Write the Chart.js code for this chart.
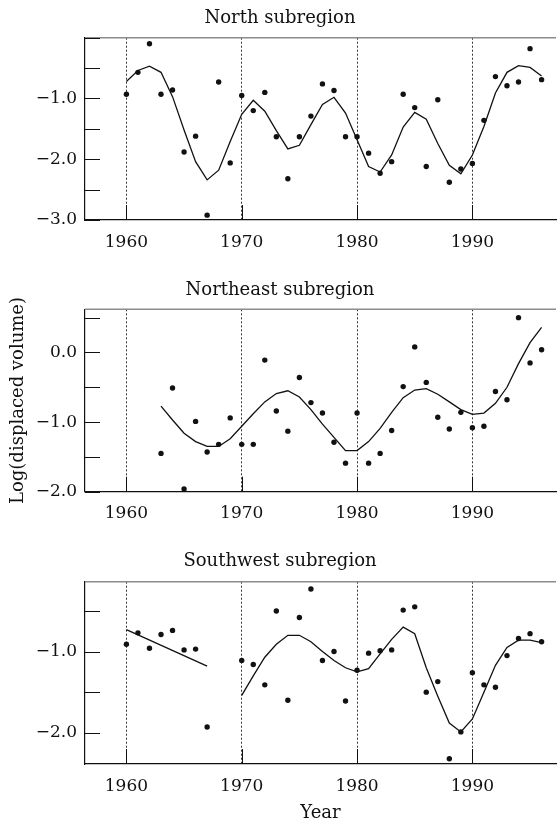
<!DOCTYPE html>
<html>
<head>
<meta charset="utf-8">
<script src="https://cdn.jsdelivr.net/npm/chart.js@4.4.1/dist/chart.umd.min.js"></script>
<style>
  body { margin: 0; background: #fff; }
  canvas { position: absolute; left: 0; }
</style>
</head>
<body>
<canvas id="north" width="560" height="270" style="top:0"></canvas>
<canvas id="northeast" width="560" height="275" style="top:270px"></canvas>
<canvas id="southwest" width="560" height="279" style="top:545px"></canvas>
<script>
const years = [1960, 1961, 1962, 1963, 1964, 1965, 1966, 1967, 1968, 1969,
  1970, 1971, 1972, 1973, 1974, 1975, 1976, 1977, 1978, 1979,
  1980, 1981, 1982, 1983, 1984, 1985, 1986, 1987, 1988, 1989,
  1990, 1991, 1992, 1993, 1994, 1995, 1996];
const yearTicks = [1960, 1970, 1980, 1990];

// North subregion
const northObs = [-0.93, -0.57, -0.10, -0.93, -0.86, -1.88, -1.62, -2.92, -0.73, -2.06,
  -0.95, -1.20, -0.90, -1.63, -2.32, -1.63, -1.29, -0.76, -0.87, -1.63,
  -1.63, -1.90, -2.23, -2.04, -0.93, -1.15, -2.12, -1.02, -2.38, -2.16,
  -2.07, -1.36, -0.64, -0.79, -0.73, -0.18, -0.69];
const northFit = [-0.72, -0.54, -0.47, -0.57, -0.97, -1.52, -2.04, -2.34, -2.18, -1.71,
  -1.26, -1.03, -1.21, -1.53, -1.83, -1.77, -1.43, -1.10, -0.98, -1.24,
  -1.68, -2.12, -2.21, -1.93, -1.47, -1.23, -1.34, -1.74, -2.10, -2.24,
  -1.93, -1.46, -0.91, -0.57, -0.46, -0.49, -0.63];
const northTicks = [-3, -2.5, -2, -1.5, -1, -0.5, 0];
const northLabels = [-3, -2, -1];

// Northeast subregion (record starts 1963)
const northeastObs = [null, null, null, -1.45, -0.51, -1.96, -0.99, -1.43, -1.32, -0.94,
  -1.32, -1.32, -0.11, -0.84, -1.13, -0.36, -0.72, -0.87, -1.29, -1.59,
  -0.87, -1.59, -1.45, -1.12, -0.49, 0.08, -0.43, -0.93, -1.10, -0.86,
  -1.08, -1.06, -0.56, -0.68, 0.50, -0.15, 0.04];
const northeastFit = [null, null, null, -0.77, -0.97, -1.16, -1.28, -1.35, -1.35, -1.24,
  -1.06, -0.88, -0.71, -0.59, -0.55, -0.64, -0.82, -1.03, -1.22, -1.41,
  -1.41, -1.28, -1.09, -0.86, -0.65, -0.54, -0.52, -0.60, -0.71, -0.82,
  -0.89, -0.87, -0.73, -0.50, -0.16, 0.14, 0.36];
const northeastTicks = [-2, -1.5, -1, -0.5, 0, 0.5];
const northeastLabels = [-2, -1, 0];

// Southwest subregion (no data 1968-69)
const southwestObs = [-0.91, -0.77, -0.96, -0.79, -0.74, -0.98, -0.97, -1.93, null, null,
  -1.11, -1.16, -1.41, -0.50, -1.60, -0.58, -0.23, -1.11, -1.00, -1.61,
  -1.23, -1.02, -0.99, -0.98, -0.49, -0.45, -1.50, -1.37, -2.32, -1.99,
  -1.26, -1.41, -1.44, -1.05, -0.84, -0.78, -0.88];
const southwestEarlyYears = [1960, 1967];
const southwestEarlyFit = [-0.73, -1.18];
const southwestFit = [null, null, null, null, null, null, null, null, null, null,
  -1.54, -1.30, -1.07, -0.91, -0.80, -0.80, -0.88, -1.00, -1.11, -1.20,
  -1.25, -1.21, -1.03, -0.85, -0.70, -0.78, -1.20, -1.55, -1.88, -1.99,
  -1.83, -1.50, -1.17, -0.95, -0.86, -0.86, -0.89];
const southwestTicks = [-2, -1.5, -1, -0.5];
const southwestLabels = [-2, -1];

const FONT = 'DejaVu Serif';
const INK = '#111';

const toPoints = (xs, ys) => xs.map((x, i) => ({ x, y: ys[i] }));
const fmt = (v) => (v < 0 ? '\u2212' : '') + Math.abs(v).toFixed(1);

// top rule plus short inward tick marks on both axes
const frame = {
  id: 'frame',
  afterDraw(chart) {
    const { ctx, chartArea: a, scales: { x, y } } = chart;
    ctx.save();
    ctx.strokeStyle = '#8c8c8c';
    ctx.lineWidth = 1.5;
    ctx.beginPath();
    ctx.moveTo(a.left, a.top);
    ctx.lineTo(a.right, a.top);
    ctx.stroke();
    ctx.strokeStyle = INK;
    ctx.lineWidth = 1;
    ctx.beginPath();
    x.ticks.forEach((t) => {
      const px = Math.round(x.getPixelForValue(t.value)) + 0.5;
      ctx.moveTo(px, a.bottom);
      ctx.lineTo(px, a.bottom - 15);
    });
    y.ticks.forEach((t) => {
      const py = Math.round(y.getPixelForValue(t.value)) + 0.5;
      ctx.moveTo(a.left, py);
      ctx.lineTo(a.left + 15, py);
    });
    ctx.stroke();
    ctx.restore();
  },
};

const drawPanel = (id, cfg) => {
  const datasets = [
    {
      data: toPoints(years, cfg.obs),
      pointRadius: 2.7,
      pointBackgroundColor: INK,
      pointBorderWidth: 0,
      showLine: false,
    },
  ];
  cfg.fits.forEach(([xs, ys]) => {
    datasets.push({
      data: toPoints(xs, ys),
      showLine: true,
      spanGaps: false,
      pointRadius: 0,
      borderColor: INK,
      borderWidth: 1.3,
      tension: 0,
    });
  });

  new Chart(document.getElementById(id), {
    type: 'scatter',
    data: { datasets },
    plugins: [frame],
    options: {
      responsive: false,
      animation: false,
      layout: { padding: 0 },
      plugins: {
        legend: { display: false },
        tooltip: { enabled: false },
        title: {
          display: true,
          text: cfg.title,
          color: INK,
          font: { family: FONT, size: 18, weight: 'normal' },
          padding: cfg.titlePad,
        },
      },
      scales: {
        x: {
          type: 'linear',
          min: 1956.41,
          max: 1997.25,
          afterBuildTicks: (s) => { s.ticks = yearTicks.map((v) => ({ value: v })); },
          afterFit: (s) => { s.height = cfg.xHeight; },
          grid: { display: true, color: '#333', lineWidth: 1, drawTicks: false },
          border: { display: true, color: INK, width: 1.2, dash: [2, 2] },
          ticks: {
            autoSkip: false,
            maxRotation: 0,
            padding: 12,
            color: INK,
            font: { family: FONT, size: 17 },
            callback: (v) => String(v),
          },
          title: {
            display: !!cfg.xTitle,
            text: cfg.xTitle || '',
            color: INK,
            font: { family: FONT, size: 18 },
            padding: { top: 0, bottom: 0 },
          },
        },
        y: {
          min: cfg.yMin,
          max: cfg.yMax,
          afterBuildTicks: (s) => { s.ticks = cfg.yTicks.map((v) => ({ value: v })); },
          afterFit: (s) => { s.width = 85; },
          grid: { display: false, drawTicks: false },
          border: { display: true, color: INK, width: 1.2 },
          ticks: {
            autoSkip: false,
            padding: 8,
            color: INK,
            font: { family: FONT, size: 17 },
            callback: (v) => (cfg.yLabels.includes(v) ? fmt(v) : ''),
          },
          title: {
            display: !!cfg.yTitle,
            text: cfg.yTitle || '',
            color: INK,
            font: { family: FONT, size: 18 },
            padding: { top: 8, bottom: 0 },
          },
        },
      },
    },
  });
};

drawPanel('north', {
  title: 'North subregion',
  titlePad: { top: 7.5, bottom: 8.6 },
  obs: northObs,
  fits: [[years, northFit]],
  yMin: -3.0,
  yMax: 0.0,
  yTicks: northTicks,
  yLabels: northLabels,
  xHeight: 50,
});

drawPanel('northeast', {
  title: 'Northeast subregion',
  titlePad: { top: 9.2, bottom: 8.5 },
  obs: northeastObs,
  fits: [[years, northeastFit]],
  yMin: -2.0,
  yMax: 0.62,
  yTicks: northeastTicks,
  yLabels: northeastLabels,
  yTitle: 'Log(displaced volume)',
  xHeight: 53.3,
});

drawPanel('southwest', {
  title: 'Southwest subregion',
  titlePad: { top: 5.9, bottom: 9.2 },
  obs: southwestObs,
  fits: [[southwestEarlyYears, southwestEarlyFit], [years, southwestFit]],
  yMin: -2.385,
  yMax: -0.14,
  yTicks: southwestTicks,
  yLabels: southwestLabels,
  xTitle: 'Year',
  xHeight: 60,
});
</script>
</body>
</html>
